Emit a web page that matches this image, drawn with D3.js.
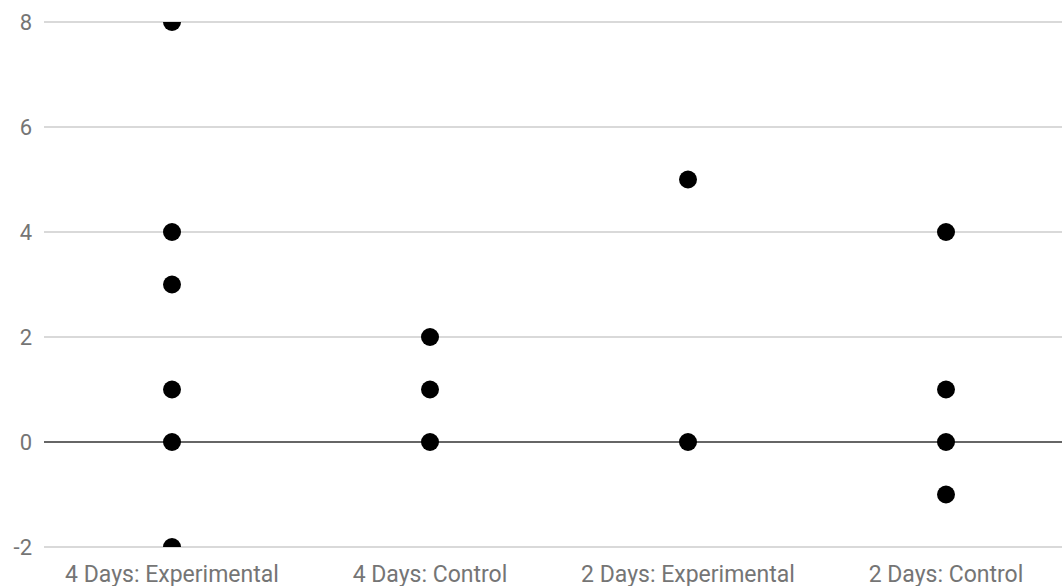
<!DOCTYPE html>
<html><head><meta charset="utf-8">
<script src="https://cdn.jsdelivr.net/npm/d3@7"></script>
<style>html,body{margin:0;padding:0;background:#fff;}svg{display:block;}</style>
</head><body>
<svg id="chart" width="1062" height="586"></svg>
<script>
const categories = ["4 Days: Experimental", "4 Days: Control", "2 Days: Experimental", "2 Days: Control"];
const exp4 = [8, 4, 3, 1, 0, -2];
const ctl4 = [2, 1, 0];
const exp2 = [5, 0];
const ctl2 = [4, 1, 0, -1];
const yTicks = [-2, 0, 2, 4, 6, 8];

(function () {
const seriesValues = [exp4, ctl4, exp2, ctl2];
const points = [];
seriesValues.forEach((vals, i) => vals.forEach(v => points.push({c: categories[i], v})));

const svg = d3.select("#chart");
const pLeft = 44, pRight = 1062, pTop = 22, pBottom = 547;
const x = d3.scaleBand().domain(categories).range([43, 1075]).padding(0);
const y = d3.scaleLinear().domain([-2, 8]).range([pBottom, pTop]);

svg.append("defs").append("clipPath").attr("id", "clip")
  .append("rect").attr("x", pLeft).attr("y", pTop).attr("width", pRight - pLeft).attr("height", pBottom - pTop);

const font = "Roboto, 'Noto Sans', sans-serif";

svg.append("g").selectAll("line").data(yTicks.filter(d => d !== 0)).join("line")
  .attr("x1", pLeft).attr("x2", pRight)
  .attr("y1", d => y(d)).attr("y2", d => y(d))
  .attr("stroke", "#cccccc").attr("stroke-width", 1.3);

svg.append("g").selectAll("text").data(yTicks).join("text")
  .attr("x", 32).attr("y", d => y(d)).attr("dy", "0.36em")
  .attr("text-anchor", "end")
  .attr("font-family", font).attr("font-size", 22).attr("fill", "#757575")
  .text(d => d);

svg.append("line").attr("x1", pLeft).attr("x2", pRight)
  .attr("y1", y(0)).attr("y2", y(0)).attr("stroke", "#333333").attr("stroke-width", 1.3);

svg.append("g").selectAll("text").data(categories).join("text")
  .attr("x", d => x(d) + x.bandwidth() / 2).attr("y", 582)
  .attr("text-anchor", "middle")
  .attr("font-family", font).attr("font-size", 23).attr("fill", "#757575")
  .text(d => d);

svg.append("g").attr("clip-path", "url(#clip)").selectAll("circle").data(points).join("circle")
  .attr("cx", d => x(d.c) + x.bandwidth() / 2)
  .attr("cy", d => y(d.v))
  .attr("r", 9)
  .attr("fill", "#000");
})();
</script>
</body></html>
